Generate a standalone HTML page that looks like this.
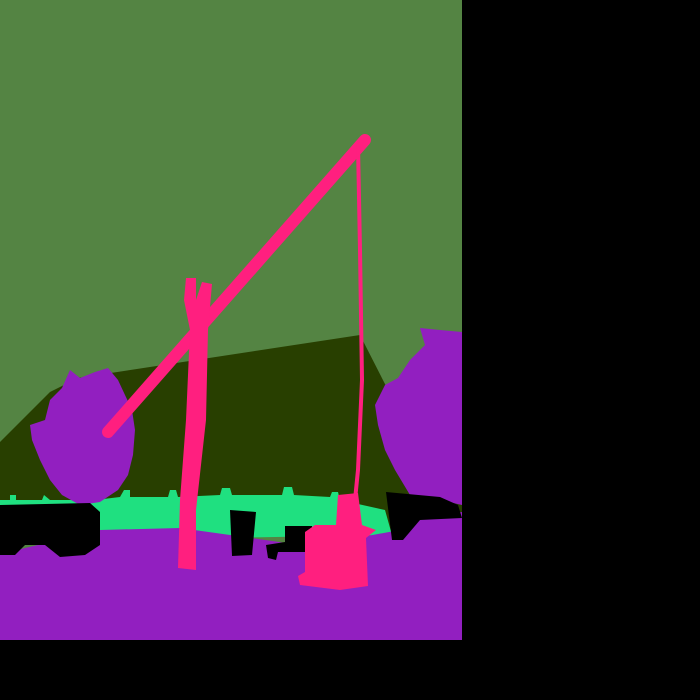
<!DOCTYPE html>
<html><head><meta charset="utf-8"><style>
html,body{margin:0;padding:0;background:#000;width:700px;height:700px;overflow:hidden}
svg{display:block}
</style></head><body>
<svg width="700" height="700" viewBox="0 0 700 700">
<rect x="0" y="0" width="700" height="700" fill="#000"/>
<rect x="0" y="0" width="462" height="640" fill="#548443"/>
<polygon fill="#283f00" points="0,442 50,392 78,378 360,335 386,386 462,378 462,530 0,530"/>
<polygon fill="#1fe080" points="0,500 10,500 10,495 16,495 16,500 42,500 44,495 50,500 95,500 120,497 124,490 130,490 130,497 168,497 170,490 176,490 178,497 220,495 222,488 230,488 232,495 282,495 284,487 292,487 294,495 330,497 332,492 338,492 340,500 385,510 392,535 100,540 0,535"/>
<path fill="#921fc0" d="M70,370 L80,378 L95,372 L108,368 L118,380 L125,395 L132,410 L135,430 L133,455 L128,475 L118,490 L100,502 L80,505 L62,495 L50,480 L40,460 L32,440 L30,425 L45,420 L50,400 L62,388 Z"/>
<path fill="#921fc0" d="M420,328 L440,330 L462,332 L462,505 L440,500 L410,495 L395,470 L385,450 L378,425 L375,405 L385,385 L398,378 L410,360 L425,345 Z"/>
<polygon fill="#921fc0" points="0,555 25,548 60,540 100,530 180,528 230,535 300,545 345,540 400,530 430,515 462,512 462,640 0,640"/>
<path fill="#000" d="M0,505 L90,503 L100,512 L100,545 L85,555 L60,557 L45,545 L25,545 L15,555 L0,555 Z"/>
<polygon fill="#000" points="230,510 256,512 252,555 232,556"/>
<polygon fill="#000" points="285,526 312,526 312,552 278,552 276,560 268,558 266,545 285,542"/>
<polygon fill="#000" points="386,492 440,497 458,505 462,518 420,520 403,540 392,540"/>
<line x1="108" y1="432" x2="365" y2="140" stroke="#ff1f7f" stroke-width="12" stroke-linecap="round"/>
<polygon fill="#ff1f7f" points="186,278 196,278 196,300 202,282 212,284 208,330 206,420 196,510 196,570 178,568 180,500 186,420 190,330 184,300"/>
<polyline fill="none" stroke="#ff1f7f" stroke-width="4" points="358,145 360,250 362,380 358,470 355,500"/>
<polygon fill="#ff1f7f" points="338,495 358,493 362,525 376,530 366,538 368,586 340,590 300,585 298,576 305,572 305,532 315,525 336,525"/>
</svg>
</body></html>
